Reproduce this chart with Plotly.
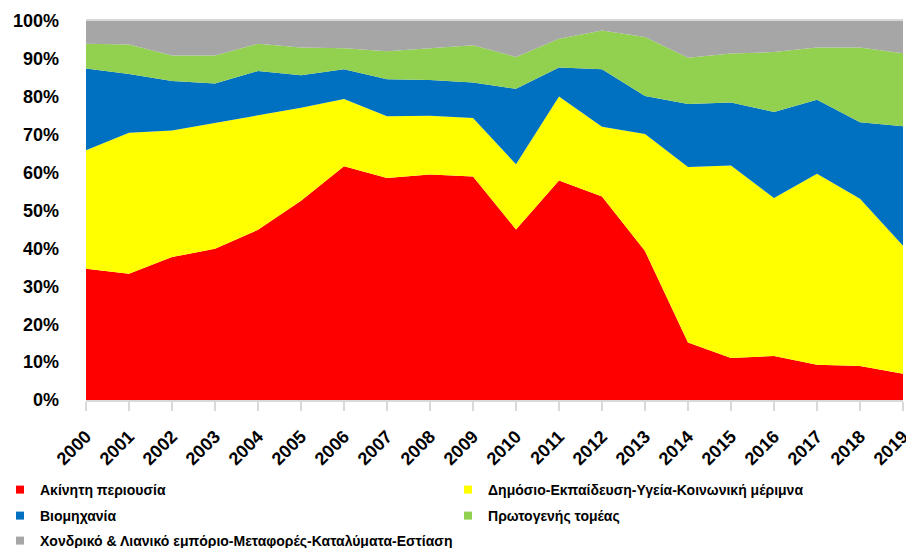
import plotly.graph_objects as go

# Years on the x axis
years = list(range(2000, 2020))

# Shares of each sector per year (%)
akinhth = [34.6, 33.3, 37.7, 39.9, 44.9, 52.6, 61.7, 58.6, 59.5, 59.0,
           45.0, 57.9, 53.7, 39.3, 15.2, 11.1, 11.6, 9.3, 9.0, 6.9]
dhmosio = [31.3, 37.2, 33.4, 33.1, 30.2, 24.5, 17.7, 16.3, 15.5, 15.4,
           17.2, 22.2, 18.4, 30.9, 46.3, 50.8, 41.7, 50.4, 44.1, 33.8]
viomhx = [21.6, 15.5, 13.1, 10.5, 11.7, 8.6, 7.9, 9.7, 9.4, 9.4,
          19.9, 7.6, 15.2, 10.0, 16.6, 16.6, 22.7, 19.5, 20.2, 31.5]
protog = [6.5, 7.8, 6.7, 7.4, 7.2, 7.3, 5.5, 7.4, 8.4, 9.8,
          8.4, 7.6, 10.2, 15.6, 12.2, 12.9, 15.8, 13.8, 19.7, 19.3]
xondriko = [6.0, 6.2, 9.1, 9.1, 6.0, 7.0, 7.2, 8.0, 7.2, 6.4,
            9.5, 4.7, 2.5, 4.2, 9.7, 8.6, 8.2, 7.0, 7.0, 8.5]

names = ["Ακίνητη περιουσία",
         "Δημόσιο-Εκπαίδευση-Υγεία-Κοινωνική μέριμνα",
         "Βιομηχανία",
         "Πρωτογενής τομέας",
         "Χονδρικό & Λιανικό εμπόριο-Μεταφορές-Καταλύματα-Εστίαση"]
colors = ["#ff0000", "#ffff00", "#0070c0", "#92d050", "#a6a6a6"]
values = [akinhth, dhmosio, viomhx, protog, xondriko]

W, H = 906, 548

# where each legend entry sits (container fractions): two columns, three rows
legend_ids = ["legend", "legend2", "legend3", "legend4", "legend5"]
legend_x = [-0.01, 0.4945, -0.01, 0.4945, -0.01]
legend_y = [1 - 490 / H, 1 - 490 / H, 1 - 516 / H, 1 - 516 / H, 1 - 541 / H]

fig = go.Figure()

for name, vals, col in zip(names, values, colors):
    fig.add_trace(go.Scatter(
        x=years, y=vals, name=name, mode="lines",
        stackgroup="one", groupnorm="percent",
        line=dict(width=0, color=col), fillcolor=col,
        showlegend=False, hoverinfo="x+y+name"))

# legend entries with small square markers, each in its own legend box
for name, col, lg in zip(names, colors, legend_ids):
    fig.add_trace(go.Scatter(
        x=[None], y=[None], name="<b>" + name + "</b>", mode="markers",
        marker=dict(symbol="square", size=8, color=col),
        legend=lg, showlegend=True))

font_family = "Arial"

legends = {}
for lg, lx, ly in zip(legend_ids, legend_x, legend_y):
    legends[lg] = dict(orientation="h", xref="container", yref="container",
                       x=lx, y=ly, xanchor="left", yanchor="middle",
                       font=dict(family=font_family, size=14, color="#000000"),
                       bgcolor="rgba(0,0,0,0)", borderwidth=0)

fig.update_layout(
    width=W, height=H,
    margin=dict(l=86, r=3, t=21, b=148),
    paper_bgcolor="white", plot_bgcolor="white",
    font=dict(family=font_family, color="#000000"),
    xaxis=dict(range=[2000, 2019], tickmode="array", tickvals=years,
               ticktext=[str(y) for y in years], tickangle=-45,
               tickfont=dict(size=18, weight="bold"),
               showgrid=False, zeroline=False, automargin=False,
               ticklabeloverflow="allow", ticklabelstandoff=8,
               showline=True, linecolor="#d9d9d9", linewidth=2, mirror=True,
               ticks="outside", ticklen=9, tickcolor="#d9d9d9", tickwidth=2),
    yaxis=dict(range=[0, 100], dtick=10, ticksuffix="%",
               tickfont=dict(size=18, weight="bold"),
               showgrid=False, zeroline=False, showline=False, ticks="",
               automargin=False, ticklabelstandoff=26),
    hovermode="x",
    **legends,
)

# drop the default 8px body margin so the figure fills the window exactly
fig.write_html("out.html", config={"displayModeBar": False},
               post_script="document.body.style.margin='0';")
